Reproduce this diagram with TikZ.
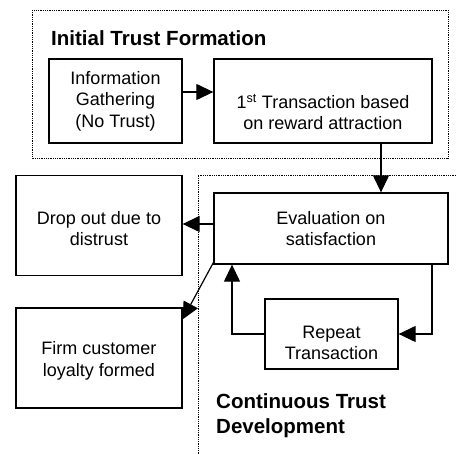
\documentclass[tikz,border=0pt]{standalone}
\usepackage{fontspec}
\setmainfont{Liberation Sans}
\usetikzlibrary{arrows.meta}
\tikzset{
  box/.style={draw, line width=1.3pt, align=center, inner sep=0pt},
  arr/.style={line width=1.2pt, -{Triangle[length=17pt,width=16pt]}},
  frame/.style={line width=0.8pt, densely dotted},
  head/.style={font=\bfseries\fontsize{20.5}{25}\selectfont, align=left, inner sep=0pt}
}
\begin{document}
\begin{tikzpicture}[x=1pt, y=-1pt, font=\fontsize{18}{21.5}\selectfont]
            \useasboundingbox (0,0) rectangle (456,454);
            \draw [frame] (32,10) rectangle (448,158);
            \draw [frame] (456,175) -- (198,175) -- (198,454);
            \node [head, anchor=west] (initial) at (51,38) {Initial Trust Formation};
            \node [head, anchor=north west] (continuous) at (216,393) {Continuous Trust\\Development};
            \node [box, minimum width=133pt, minimum height=84pt] (info) at (115.5,101) {Information\\Gathering\\(No Trust)};
            \node [box, minimum width=218pt, minimum height=84pt] (first) at (323,101) {};
            \node [align=center] (firsttext) at ([yshift=-11pt]first.center) {1\textsuperscript{st} Transaction based\\on reward attraction};
            \node [box, minimum width=234pt, minimum height=71pt] (eval) at (331,228.5) {Evaluation on\\satisfaction};
            \node [box, minimum width=166pt, minimum height=100pt] (drop) at (99,225.5) {};
            \node [align=center] (droptext) at ([yshift=-3pt]drop.center) {Drop out due to\\distrust};
            \node [box, minimum width=166pt, minimum height=100pt] (firm) at (99,358) {};
            \node [align=center] (firmtext) at ([yshift=-3pt]firm.center) {Firm customer\\loyalty formed};
            \node [box, minimum width=133pt, minimum height=70pt] (repeat) at (331.5,334) {};
            \node [align=center] (repeattext) at ([yshift=-9pt]repeat.center) {Repeat\\Transaction};
            \draw [arr] (info.east |- 0,92) -- (first.west |- 0,92);
            \draw [arr] (first.south -| 381,0) -- (eval.north -| 381,0);
            \draw [arr] (eval.west |- 0,224) -- (drop.east |- 0,224);
            \draw [arr] ([yshift=2pt]eval.south west) -- ([yshift=-12pt]firm.north east);
            \draw [arr] (eval.south -| 432,0) |- (repeat.east);
            \draw [arr] (repeat.west) -| (eval.south -| 232,0);
            \end{tikzpicture}
\end{document}
